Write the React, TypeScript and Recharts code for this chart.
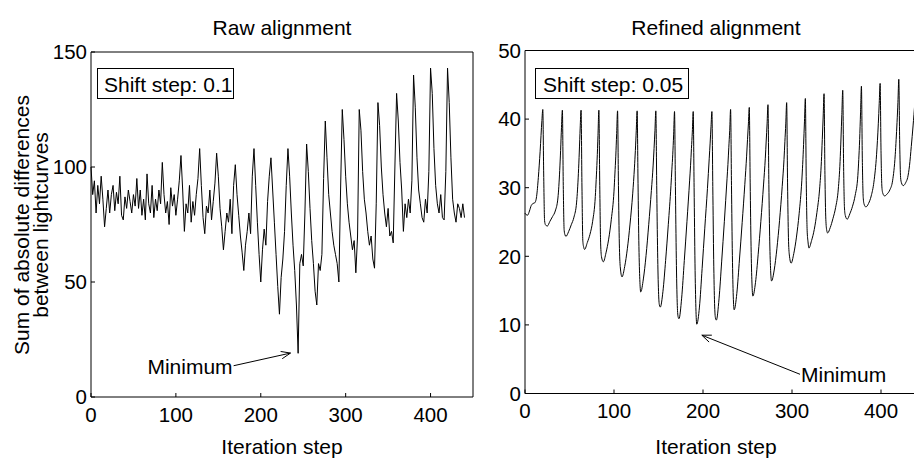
import { LineChart, Line, XAxis, YAxis, ReferenceLine } from "recharts";

const FONT = '"Liberation Sans", Arial, Helvetica, sans-serif';

// raw alignment: value every 2 iteration steps (0..440)
const RAW_STEP = 2;
const rawValues = [
  100, 88, 94, 80, 92, 84, 96, 86, 74, 82,
  90, 80, 88, 92, 81, 89, 84, 96, 79, 77,
  87, 82, 90, 85, 80, 88, 83, 95, 82, 90,
  79, 86, 77, 97, 84, 80, 92, 78, 86, 81,
  90, 84, 102, 88, 80, 85, 75, 91, 83, 88,
  79, 86, 94, 105, 90, 72, 84, 80, 92, 76,
  85, 79, 88, 95, 108, 92, 78, 71, 83, 80,
  90, 77, 85, 93, 106,
  96, 82, 74, 64, 72, 80, 76, 86, 71, 92,
  101, 88, 79, 70, 63, 55, 66, 72, 80, 71,
  96, 108, 92, 76, 62, 50, 64, 73, 66, 85,
  96, 104, 90, 76, 62, 48, 36, 52, 60, 72,
  92, 108, 96, 80, 66, 55, 40, 19, 58, 62,
  57, 80, 110, 98, 82, 68, 58, 46, 40, 58,
  55, 62, 95, 120, 104,
  88, 80, 72, 66, 62, 58, 50, 90, 125, 112,
  96, 84, 76, 70, 64, 68, 54, 70, 125, 116,
  98, 86, 80, 72, 66, 70, 60, 56, 84, 128,
  118, 100, 88, 80, 74, 82, 70, 72, 67, 100,
  132, 120, 102, 90, 72, 84, 78, 86, 80, 94,
  140, 126, 104, 90, 84, 78, 76, 86, 80, 98,
  143, 132, 108, 92, 84, 80, 88, 78, 77, 98,
  143, 128, 104, 86, 80, 76, 84, 82, 78, 84,
  78,
];

// refined alignment: points
const refinedSteps = [
  0, 1, 3, 5, 7, 9, 11, 13, 15, 17, 19, 20,
  21, 22, 23, 25, 28, 31, 34, 37, 39, 40, 41, 42,
  43, 44, 45, 46, 49, 52, 55, 58, 60, 61, 62, 63,
  64, 65, 66, 67, 70, 73, 76, 79, 80, 81, 82, 83,
  84, 85, 86, 88, 91, 94, 97, 100, 101, 102, 103, 104,
  105, 106, 107, 109, 112, 115, 118, 121, 123, 124, 125, 126,
  127, 128, 129, 130, 133, 136, 139, 142, 144, 145, 146, 147,
  148, 149, 150, 151, 152, 155, 158, 161, 164, 165, 166, 167, 168,
  169, 170, 171, 172, 173, 176, 179, 182, 185, 186, 187, 188, 189,
  190, 191, 192, 193, 196, 199, 202, 205, 207, 208, 209, 210,
  211, 212, 213, 214, 215, 218, 221, 224, 227, 228, 229, 230, 231,
  232, 233, 234, 235, 238, 241, 244, 247, 249, 250, 251, 252,
  253, 254, 255, 256, 259, 262, 265, 268, 270, 271, 272, 273,
  274, 275, 276, 277, 280, 283, 286, 289, 291, 292, 293, 294,
  295, 296, 297, 299, 302, 305, 308, 311, 312, 313, 314, 315,
  316, 317, 318, 319, 322, 325, 328, 331, 333, 334, 335, 336,
  337, 338, 339, 340, 343, 346, 349, 352, 354, 355, 356, 357,
  358, 359, 360, 362, 365, 368, 371, 374, 375, 376, 377, 378,
  379, 380, 381, 383, 386, 389, 392, 395, 396, 397, 398, 399,
  400, 401, 402, 404, 407, 410, 413, 416, 417, 418, 419, 420,
  421, 422, 423, 425, 428, 430, 432, 434, 436, 438, 440,
];
const refinedValues = [
  26.3, 26.1, 26.0, 26.6, 27.4, 27.7, 27.8, 28.7, 31.5, 35.3, 39.8, 41.4,
  32.0, 25.2, 24.6, 24.4, 25.1, 25.8, 26.6, 28.5, 32.5, 35.4, 38.8, 41.3,
  30.3, 23.8, 23.1, 22.9, 23.6, 24.6, 25.7, 27.9, 32.1, 35.2, 38.7, 41.3,
  30.1, 22.2, 21.3, 21.0, 22.0, 23.2, 25.1, 28.7, 31.2, 34.0, 37.6, 41.3,
  30.3, 21.8, 19.9, 19.2, 20.5, 22.5, 25.4, 29.5, 32.0, 34.6, 37.9, 41.2,
  30.3, 21.8, 18.5, 17.0, 18.5, 21.1, 24.7, 29.1, 33.0, 35.4, 38.3, 41.2,
  30.6, 21.4, 16.6, 14.8, 16.7, 20.1, 24.6, 29.6, 33.3, 35.7, 38.3, 41.2,
  30.3, 20.6, 14.9, 12.9, 12.6, 14.9, 19.4, 24.6, 30.3, 32.6, 34.8, 37.7, 41.1,
  30.2, 19.7, 13.3, 11.2, 10.9, 13.9, 19.4, 25.1, 31.1, 33.2, 35.7, 38.1, 41.1,
  30.0, 19.0, 12.5, 10.1, 12.6, 18.2, 24.1, 29.9, 34.3, 36.5, 38.9, 41.1,
  30.2, 19.5, 13.1, 11.0, 10.7, 13.8, 19.3, 25.1, 31.3, 33.4, 35.9, 38.3, 41.4,
  30.3, 20.1, 14.2, 12.2, 14.6, 19.6, 24.9, 30.5, 34.6, 37.0, 39.3, 41.7,
  30.7, 21.4, 16.1, 14.2, 16.2, 20.3, 25.1, 30.4, 34.3, 36.8, 39.3, 42.1,
  30.5, 22.1, 17.9, 16.4, 18.0, 21.1, 25.2, 30.2, 34.1, 36.7, 39.3, 42.4,
  30.7, 22.7, 20.2, 19.0, 20.4, 22.8, 26.2, 31.0, 33.4, 36.3, 39.6, 43.0,
  31.0, 23.8, 22.1, 21.2, 22.3, 23.9, 26.4, 29.8, 33.8, 37.0, 40.3, 43.7,
  31.9, 25.4, 23.8, 23.4, 24.2, 25.5, 27.1, 29.8, 33.8, 37.1, 40.7, 44.2,
  32.9, 26.9, 25.9, 25.4, 26.2, 27.3, 28.9, 31.8, 34.1, 37.0, 40.9, 44.8,
  34.2, 28.6, 27.6, 27.2, 27.7, 28.8, 30.8, 34.8, 36.9, 39.4, 42.3, 45.2,
  35.4, 30.1, 29.2, 28.8, 29.1, 29.7, 31.0, 34.8, 37.0, 39.5, 42.4, 45.8,
  36.5, 31.5, 30.7, 30.3, 30.8, 31.5, 33.2, 36.0, 39.0, 42.4, 46.4,
];

const stepTicks = [0, 100, 200, 300, 400];
const rawValueTicks = [0, 50, 100, 150];
const refinedValueTicks = [0, 10, 20, 30, 40, 50];

// "Minimum" arrows: label end -> arrow tip, in data units
const rawMinimumArrow = [{ x: 168, y: 13.6 }, { x: 235, y: 19.1 }];
const refinedMinimumArrow = [{ x: 309, y: 2.8 }, { x: 198.7, y: 8.5 }];

const rawData = rawValues.map((value, k) => ({ step: k * RAW_STEP, value }));
const refinedData = refinedSteps.map((step, k) => ({ step, value: refinedValues[k] }));

const tickStyle = { fill: "#000", fontSize: 20.5, fontFamily: FONT };

const minimumArrow = (side: "left" | "right") => (props: any) => {
  const { x1, y1, x2, y2 } = props;
  const back = Math.atan2(y1 - y2, x1 - x2);
  const head = 10;
  const spread = 0.38;
  const ax = x2 + head * Math.cos(back - spread);
  const ay = y2 + head * Math.sin(back - spread);
  const bx = x2 + head * Math.cos(back + spread);
  const by = y2 + head * Math.sin(back + spread);
  return (
    <g>
      <line x1={x1} y1={y1} x2={x2} y2={y2} stroke="#000" strokeWidth={1} />
      <polyline
        points={`${ax},${ay} ${x2},${y2} ${bx},${by}`}
        fill="none"
        stroke="#000"
        strokeWidth={1}
      />
      <text
        x={side === "left" ? x1 - 1 : x1 + 1}
        y={y1 + 8}
        textAnchor={side === "left" ? "end" : "start"}
        fontSize={21}
        fontFamily={FONT}
        fill="#000"
      >
        Minimum
      </text>
    </g>
  );
};

interface PanelProps {
  data: { step: number; value: number }[];
  width: number;
  margin: { top: number; right: number; bottom: number; left: number };
  xMax: number;
  yMax: number;
  yTicks: number[];
  curve: "linear" | "monotone";
  arrow: { x: number; y: number }[];
  labelSide: "left" | "right";
}

const Panel = ({ data, width, margin, xMax, yMax, yTicks, curve, arrow, labelSide }: PanelProps) => (
  <LineChart width={width} height={462} data={data} margin={margin}>
    <XAxis
      xAxisId="bottom"
      dataKey="step"
      type="number"
      domain={[0, xMax]}
      ticks={stepTicks}
      interval={0}
      height={30}
      tickSize={-4}
      tickMargin={14}
      stroke="#000"
      tick={tickStyle}
    />
    <XAxis
      xAxisId="top"
      orientation="top"
      type="number"
      domain={[0, xMax]}
      ticks={stepTicks}
      interval={0}
      height={1}
      tickSize={-4}
      stroke="#000"
      tick={false}
    />
    <YAxis
      yAxisId="left"
      type="number"
      domain={[0, yMax]}
      ticks={yTicks}
      interval={0}
      width={40}
      tickSize={-4}
      tickMargin={8}
      stroke="#000"
      tick={tickStyle}
    />
    <YAxis
      yAxisId="right"
      orientation="right"
      type="number"
      domain={[0, yMax]}
      ticks={yTicks}
      interval={0}
      width={1}
      tickSize={-4}
      stroke="#000"
      tick={false}
    />
    <Line
      xAxisId="bottom"
      yAxisId="left"
      dataKey="value"
      type={curve}
      stroke="#000"
      strokeWidth={1}
      dot={false}
      isAnimationActive={false}
    />
    <ReferenceLine
      xAxisId="bottom"
      yAxisId="left"
      segment={arrow}
      shape={minimumArrow(labelSide)}
    />
  </LineChart>
);

export default function App() {
  return (
    <div
      style={{
        position: "absolute",
        left: 0,
        top: 0,
        width: 914,
        height: 462,
        overflow: "hidden",
        background: "#fff",
        fontFamily: FONT,
      }}
    >
      <div style={{ position: "absolute", left: 0, top: 0 }}>
        <Panel
          data={rawData}
          width={480}
          margin={{ top: 51, right: 6, bottom: 35, left: 51 }}
          xMax={450}
          yMax={150}
          yTicks={rawValueTicks}
          curve="linear"
          arrow={rawMinimumArrow}
          labelSide="left"
        />
      </div>
      <div style={{ position: "absolute", left: 480, top: 0 }}>
        <Panel
          data={refinedData}
          width={440}
          margin={{ top: 49.5, right: 1.5, bottom: 38.5, left: 5 }}
          xMax={441}
          yMax={50}
          yTicks={refinedValueTicks}
          curve="monotone"
          arrow={refinedMinimumArrow}
          labelSide="right"
        />
      </div>
      <svg
        width={914}
        height={462}
        style={{ position: "absolute", left: 0, top: 0, pointerEvents: "none" }}
        fontFamily={FONT}
        fontSize={21}
        fill="#000"
      >
        <text x={282} y={35} textAnchor="middle">Raw alignment</text>
        <text x={716} y={35} textAnchor="middle">Refined alignment</text>
        <text x={282} y={454} textAnchor="middle">Iteration step</text>
        <text x={716} y={454} textAnchor="middle">Iteration step</text>
        <text transform="translate(29,225) rotate(-90)" textAnchor="middle">
          Sum of absolute differences
        </text>
        <text transform="translate(48,225) rotate(-90)" textAnchor="middle">
          between lightcurves
        </text>
        <rect x={97.5} y={68.5} width={136} height={30} fill="#fff" stroke="#000" strokeWidth={1} />
        <text x={104} y={91.5}>Shift step: 0.1</text>
        <rect x={535.5} y={68.5} width={153} height={30} fill="#fff" stroke="#000" strokeWidth={1} />
        <text x={543} y={92}>Shift step: 0.05</text>
      </svg>
    </div>
  );
}
